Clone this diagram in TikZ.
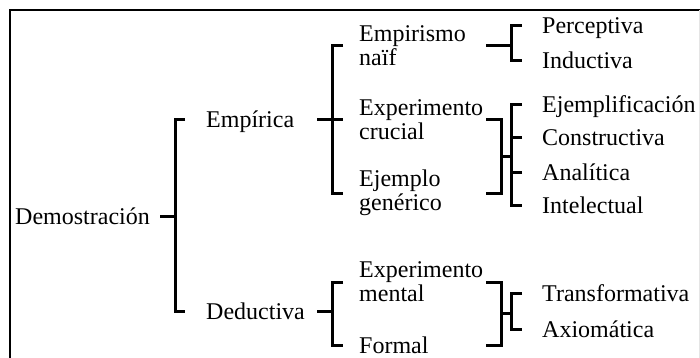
\documentclass[tikz,border=0pt]{standalone}
\usepackage{fontspec}
\setmainfont{Liberation Serif}
\usetikzlibrary{calc}
\begin{document}
\begin{tikzpicture}[x=1pt,y=-1pt,
  font=\fontsize{24}{24}\selectfont,
  lbl/.style={anchor=west, inner sep=0pt, align=left},
  one/.style={lbl, text height=16pt, text depth=0pt},
  br/.style={line width=3pt, line join=miter},
  frame/.style={line width=2.5pt}]
\useasboundingbox (0,0) rectangle (700,358);
% frame
\draw[frame] (10,358) -- (10,10) -- (700,10);
\draw[gray!20, line width=1pt] (699,10) -- (699,358);
% level 1
\node[one] (dem) at (15,216) {Demostración};
% level 2
\node[one] (emp) at (206,120) {Empírica};
\node[one] (ded) at (206,311) {Deductiva};
% level 3
\node[lbl] (ein) at (359,46) {Empirismo\\naïf};
\node[lbl] (ecr) at (359,120) {Experimento\\crucial};
\node[lbl] (ege) at (359,193) {Ejemplo\\genérico};
\node[lbl] (eme) at (359,282) {Experimento\\mental};
\node[one] (frm) at (359,345) {Formal};
% level 4
\node[one] (per) at (542,26) {Perceptiva};
\node[one] (ind) at (542,61) {Inductiva};
\node[one] (ejf) at (542,105) {Ejemplificación};
\node[one] (con) at (542,138) {Constructiva};
\node[one] (ana) at (542,172) {Analítica};
\node[one] (int) at (542,205) {Intelectual};
\node[one] (tra) at (542,293) {Transformativa};
\node[one] (axi) at (542,329) {Axiomática};
% bracket columns
\coordinate (x1) at (160,0);
\coordinate (b1) at (175,0);
\coordinate (t1) at (185,0);
\coordinate (x2) at (317,0);
\coordinate (b2) at (332,0);
\coordinate (t2) at (343,0);
\coordinate (x3) at (486,0);
\coordinate (m3) at (501,0);
\coordinate (b3) at (511,0);
\coordinate (t3) at (522,0);
% Demostracion
\draw[br] (x1 |- dem.west) -- (b1 |- dem.west);
\draw[br] (t1 |- emp.west) -- (b1 |- emp.west) -- (b1 |- ded.west) -- (t1 |- ded.west);
% Empirica
\draw[br] (x2 |- emp.west) -- (t2 |- emp.west);
\draw[br] (t2 |- ein.west) -- (b2 |- ein.west) -- (b2 |- ege.west) -- (t2 |- ege.west);
% Deductiva
\draw[br] (x2 |- ded.west) -- (b2 |- ded.west);
\draw[br] (t2 |- eme.west) -- (b2 |- eme.west) -- (b2 |- frm.west) -- (t2 |- frm.west);
% Empirismo naif
\draw[br] (x3 |- ein.west) -- (b3 |- ein.west);
\draw[br] (t3 |- per.west) -- (b3 |- per.west) -- (b3 |- ind.west) -- (t3 |- ind.west);
% crucial / generico
\coordinate (c1) at ($(ecr.west)!0.5!(ege.west)$);
\draw[br] (x3 |- ecr.west) -- (m3 |- ecr.west) -- (m3 |- ege.west) -- (x3 |- ege.west);
\draw[br] (m3 |- c1) -- (b3 |- c1);
\draw[br] (t3 |- ejf.west) -- (b3 |- ejf.west) -- (b3 |- int.west) -- (t3 |- int.west);
\draw[br] (t3 |- con.west) -- (b3 |- con.west);
\draw[br] (t3 |- ana.west) -- (b3 |- ana.west);
% mental / formal
\coordinate (c2) at ($(eme.west)!0.5!(frm.west)$);
\draw[br] (x3 |- eme.west) -- (m3 |- eme.west) -- (m3 |- frm.west) -- (x3 |- frm.west);
\draw[br] (m3 |- c2) -- (b3 |- c2);
\draw[br] (t3 |- tra.west) -- (b3 |- tra.west) -- (b3 |- axi.west) -- (t3 |- axi.west);
\end{tikzpicture}
\end{document}
